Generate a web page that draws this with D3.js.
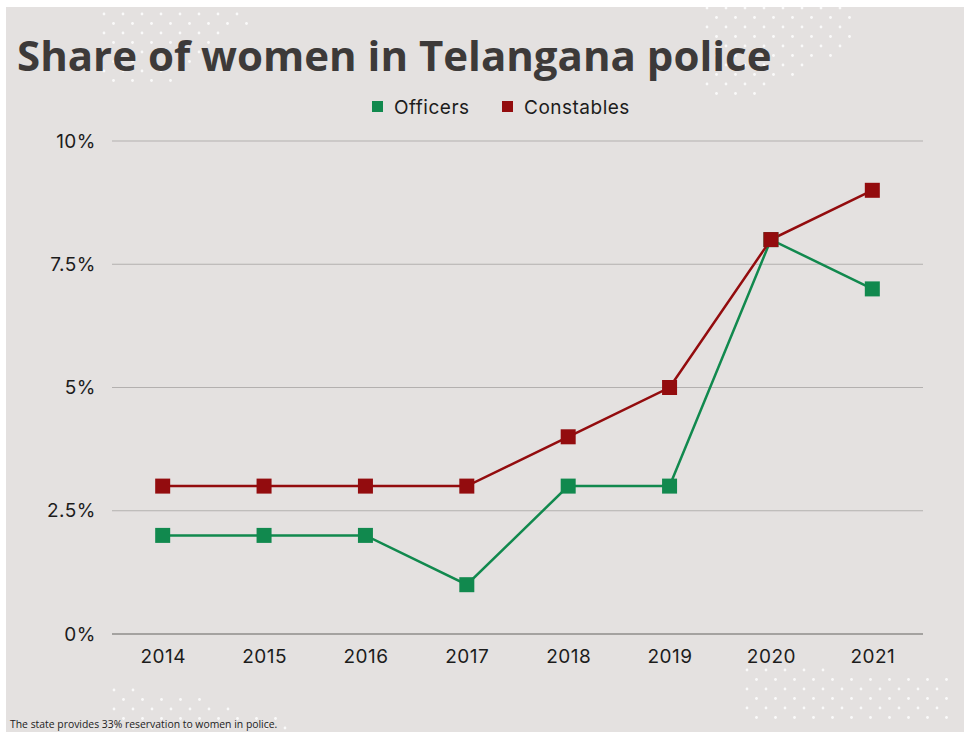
<!DOCTYPE html>
<html>
<head>
<meta charset="utf-8">
<script src="https://cdn.jsdelivr.net/npm/d3@7"></script>
<style>
  body { margin: 0; background: #fff; }
  svg { display: block; }
</style>
</head>
<body>
<script>
// Data
const years = ["2014", "2015", "2016", "2017", "2018", "2019", "2020", "2021"];
const officers = [2, 2, 2, 1, 3, 3, 8, 7];
const constables = [3, 3, 3, 3, 4, 5, 8, 9];
const yTicks = [0, 2.5, 5, 7.5, 10];
const yTickLabels = ["0%", "2.5%", "5%", "7.5%", "10%"];

const width = 964, height = 732;
const green = "#11894e", red = "#930c0e";

const svg = d3.select("body").append("svg")
  .attr("width", width)
  .attr("height", height);

// Card background
svg.append("rect")
  .attr("x", 6).attr("y", 7)
  .attr("width", width - 6).attr("height", height - 7)
  .attr("fill", "#e4e1e0");

// Decorative dot patterns (white)
function dotPatch(x0, y0, cols, rows, gap, clip) {
  const g = svg.append("g").attr("fill", "#ffffff").attr("opacity", 0.85);
  for (let r = 0; r < rows; r++) {
    for (let c = 0; c < cols; c++) {
      const x = x0 + c * gap + (r % 2 ? gap / 2 : 0);
      const y = y0 + r * gap / 2;
      if (clip && !clip(c, r)) continue;
      g.append("circle").attr("cx", x).attr("cy", y).attr("r", 1.4);
    }
  }
}
dotPatch(104, 14, 8, 8, 19, (c, r) => c + r * 0.2 < 8 - r * 0.5);
dotPatch(707, 8, 8, 10, 19, (c, r) => c < 8 - Math.max(0, r - 3) * 0.9);
dotPatch(114, 690, 10, 5, 19, (c, r) => c < 2 + r * 2.2);
dotPatch(747, 670, 11, 6, 19, (c, r) => r > 0 || c < 5);

// Title
svg.append("text")
  .attr("x", 17).attr("y", 71)
  .attr("font-family", "'Open Sans', sans-serif")
  .attr("font-weight", 700)
  .attr("font-size", 42)
  .attr("fill", "#3d3a39")
  .text("Share of women in Telangana police");

// Scales
const margin = { left: 112, right: 41, top: 141, bottom: 98 };
const x = d3.scalePoint()
  .domain(years)
  .range([margin.left, width - margin.right])
  .padding(0.5);
const y = d3.scaleLinear()
  .domain([0, 10])
  .range([height - margin.bottom, margin.top]);

// Gridlines
svg.append("g")
  .selectAll("line")
  .data(yTicks)
  .join("line")
  .attr("x1", margin.left)
  .attr("x2", width - margin.right)
  .attr("y1", (d) => y(d))
  .attr("y2", (d) => y(d))
  .attr("stroke", (d) => (d === 0 ? "#8f8c8b" : "#b3b0af"))
  .attr("stroke-width", (d) => (d === 0 ? 1.5 : 1));

// Axes
const labelFont = (sel) => sel
  .attr("font-family", "Inter, sans-serif")
  .attr("font-size", 19)
  .attr("letter-spacing", 0.5)
  .attr("fill", "#1c1c1c");

const yAxis = d3.axisLeft(y)
  .tickValues(yTicks)
  .tickFormat((d, i) => yTickLabels[i])
  .tickSize(0)
  .tickPadding(16);
svg.append("g")
  .attr("transform", `translate(${margin.left},0)`)
  .call(yAxis)
  .call((g) => g.select(".domain").remove())
  .selectAll("text")
  .call(labelFont);

const xAxis = d3.axisBottom(x).tickSize(0).tickPadding(16);
svg.append("g")
  .attr("transform", `translate(0,${y(0)})`)
  .call(xAxis)
  .call((g) => g.select(".domain").remove())
  .selectAll("text")
  .call(labelFont);

// Lines and markers
const line = d3.line()
  .x((d, i) => x(years[i]))
  .y((d) => y(d));

const series = [
  { name: "Officers", values: officers, color: green },
  { name: "Constables", values: constables, color: red },
];

series.forEach((s) => {
  svg.append("path")
    .datum(s.values)
    .attr("fill", "none")
    .attr("stroke", s.color)
    .attr("stroke-width", 2.5)
    .attr("d", line);
});
series.forEach((s) => {
  svg.append("g")
    .selectAll("rect")
    .data(s.values)
    .join("rect")
    .attr("x", (d, i) => x(years[i]) - 7.5)
    .attr("y", (d) => y(d) - 7.5)
    .attr("width", 15)
    .attr("height", 15)
    .attr("fill", s.color);
});

// Legend
const legend = svg.append("g").attr("transform", "translate(372,107)");
const legendX = [0, 130];
series.forEach((s, i) => {
  const g = legend.append("g").attr("transform", `translate(${legendX[i]},0)`);
  g.append("rect")
    .attr("x", 0).attr("y", -6)
    .attr("width", 11).attr("height", 11)
    .attr("fill", s.color);
  g.append("text")
    .attr("x", 22).attr("y", 6.5)
    .call(labelFont)
    .text(s.name);
});

// Footnote
svg.append("text")
  .attr("x", 10).attr("y", 728)
  .attr("font-family", "'Open Sans', sans-serif")
  .attr("font-size", 10.4)
  .attr("fill", "#222")
  .text("The state provides 33% reservation to women in police.");
</script>
</body>
</html>
